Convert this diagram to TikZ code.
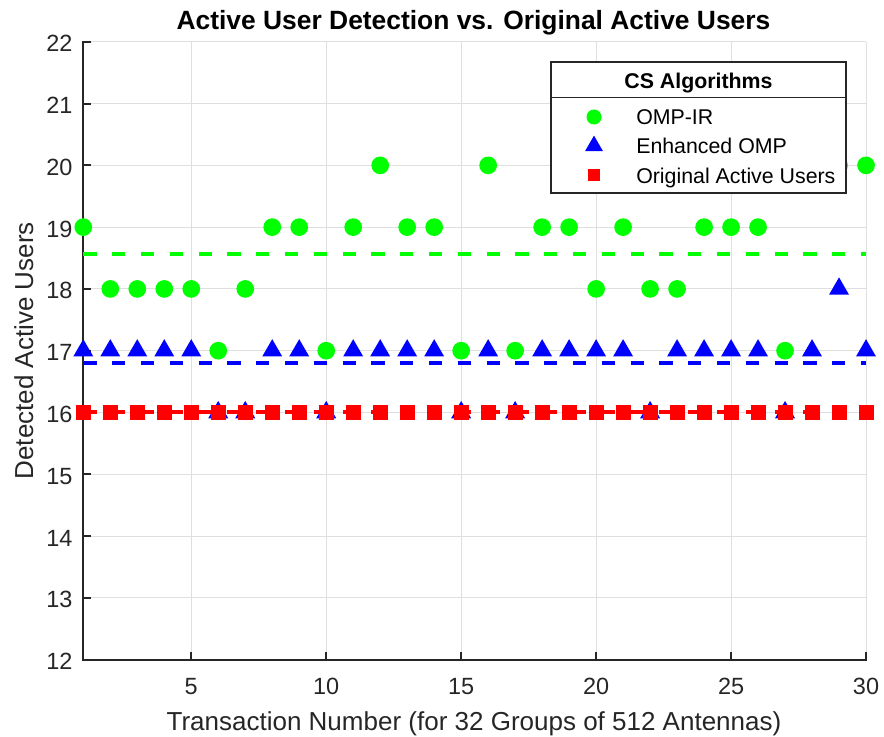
\documentclass[tikz,border=0pt]{standalone}
\usepackage{fontspec}
\setmainfont{Liberation Sans}
\definecolor{axcol}{RGB}{38,38,38}
\definecolor{gridcol}{RGB}{223,223,223}
\definecolor{mgreen}{RGB}{0,255,0}
\definecolor{mblue}{RGB}{0,0,255}
\definecolor{mred}{RGB}{255,0,0}
\tikzset{
  gridline/.style={draw=gridcol, line width=0.75pt},
  axisline/.style={draw=axcol, line width=1.5pt},
  ticklab/.style={text=axcol, inner sep=0pt, font=\fontsize{17.6}{20}\selectfont},
  axislab/.style={text=axcol, inner sep=0pt, font=\fontsize{19.5}{22}\selectfont},
  meanline/.style={line width=3pt, dash pattern=on 10pt off 11.6pt},
  legtext/.style={text=black, inner sep=0pt, font=\fontsize{16}{19}\selectfont},
}
\begin{document}
\begin{tikzpicture}
\useasboundingbox (0pt,0pt) rectangle (663pt,552pt);

% ---------- plot area in data coordinates ----------
\begin{scope}[x=20.2425pt, y=46.335pt, shift={(42.2325pt,-498.72pt)}]
  % grid
  \foreach \d in {5,10,...,30} \draw[gridline] (\d,12) -- (\d,22);
  \foreach \v in {13,...,22} \draw[gridline] (1,\v) -- (30,\v);
  % axes and ticks
  \draw[axisline, line cap=rect] (1,22) -- (1,12) -- (30,12);
  \foreach \v in {12,...,22} {
    \draw[axisline] (1,\v) -- ++(5.85pt,0);
    \node[ticklab, anchor=base east] (yt\v) at ([xshift=-7.95pt, yshift=-7.5pt]1,\v) {\v};
  }
  \foreach \d in {5,10,...,30} {
    \draw[axisline] (\d,12) -- ++(0,5.85pt);
    \node[ticklab, anchor=base] (xt\d) at ([yshift=-25.8pt]\d,12) {\d};
  }
  % OMP-IR detections
  \foreach \v [count=\d] in {19,18,18,18,18,17,18,19,19,17,19,20,19,19,17,20,17,19,19,18,19,18,18,19,19,19,17,20,20,20}
    \fill[mgreen] (\d,\v) circle[radius=6.64pt];
  % Enhanced OMP detections
  \foreach \v [count=\d] in {17,17,17,17,17,16,16,17,17,16,17,17,17,17,16,17,16,17,17,17,17,16,17,17,17,17,16,17,18,17}
    \fill[mblue] (\d,\v) +(90:8.66pt) -- +(210:8.66pt) -- +(330:8.66pt) -- cycle;
  % original active users
  \foreach \d in {1,...,30}
    \fill[mred] ([xshift=-5.63pt, yshift=-5.63pt]\d,16) rectangle ++(11.26pt,11.26pt);
  % mean levels
  \draw[meanline, mgreen] (1,18.5667) -- (30,18.5667);
  \draw[meanline, mblue] (1,16.8) -- (30,16.8);
  \draw[meanline, mred] (1,16) -- (30,16);
\end{scope}

% ---------- titles, labels and legend in pixel coordinates ----------
\begin{scope}[x=0.75pt, y=-0.75pt, shift={(0pt,552pt)}]
  \node[inner sep=0pt, anchor=base, font=\bfseries\fontsize{19.8}{24}\selectfont] (title) at (473.5,30)
    {Active User Detection vs. Original Active Users};
  \node[axislab, anchor=base] (xlab) at (474,730) {Transaction Number (for 32 Groups of 512 Antennas)};
  \node[axislab, anchor=base, rotate=90] (ylab) at (33,350.7) {Detected Active Users};

  % legend
  \draw[fill=white, draw=axcol, line width=0.9pt] (551,62) rectangle (846,193);
  \draw[draw=axcol, line width=0.9pt] (551,97.7) -- (846,97.7);
  \node[legtext, anchor=base, font=\bfseries\fontsize{16}{19}\selectfont] (leghead) at (698.5,89) {CS Algorithms};
  \fill[mgreen] (594,117) circle[radius=5.63pt];
  \fill[mblue] (594,146) +(90:7.8pt) -- +(210:7.8pt) -- +(330:7.8pt) -- cycle;
  \fill[mred] (588,169) rectangle (600,181);
  \node[legtext, anchor=base west] (leg1) at (636,125) {OMP-IR};
  \node[legtext, anchor=base west] (leg2) at (636,154) {Enhanced OMP};
  \node[legtext, anchor=base west] (leg3) at (636,183.3) {Original Active Users};
\end{scope}
\end{tikzpicture}
\end{document}
